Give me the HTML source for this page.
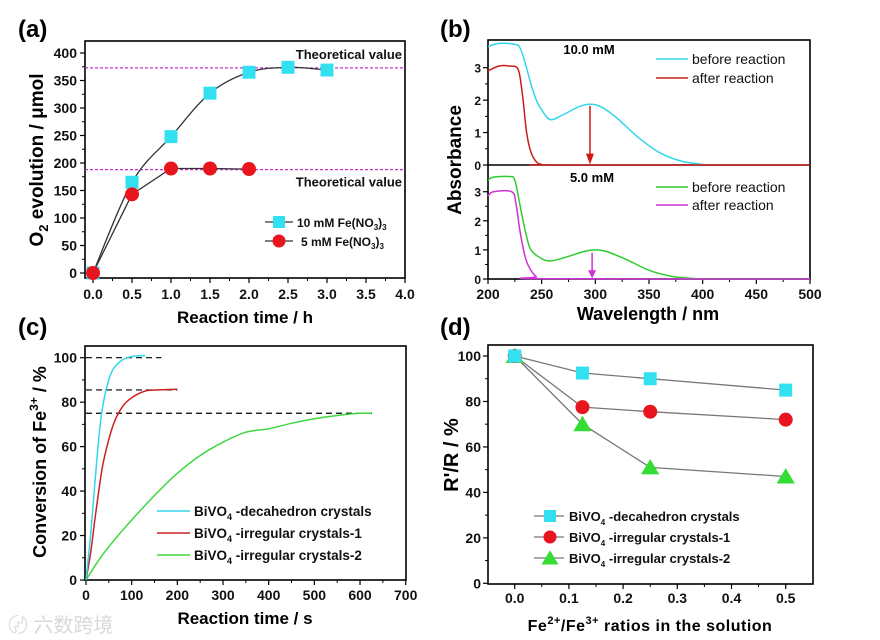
<!DOCTYPE html>
<html><head><meta charset="utf-8">
<style>
html,body{margin:0;padding:0;background:#fff;}
svg{display:block;font-family:"Liberation Sans","Noto Sans CJK SC",sans-serif;}
</style></head>
<body>
<svg id="fig" width="880" height="640" viewBox="0 0 880 640" xmlns="http://www.w3.org/2000/svg"></svg>
<script>
// ---------- Panel (a) data ----------
const aTimes = [0, 0.5, 1.0, 1.5, 2.0, 2.5, 3.0];
const aTen = [0, 165, 248, 327, 365, 374, 369];
const aFiveTimes = [0, 0.5, 1.0, 1.5, 2.0];
const aFive = [0, 143, 190, 190, 189];
const aTheory = [373, 188];
const aXTicks = [0, 0.5, 1, 1.5, 2, 2.5, 3, 3.5, 4];
const aYTicks = [0, 50, 100, 150, 200, 250, 300, 350, 400];
// ---------- Panel (b) data ----------
const bWl10Before = [200,210,225,230,235,240,245,250,258,270,285,295,305,320,340,360,380,400];
const bAbs10Before = [3.65,3.75,3.72,3.6,3.1,2.5,2.0,1.7,1.4,1.55,1.8,1.87,1.8,1.45,0.85,0.38,0.12,0.02];
const bWl10After = [200,210,220,228,232,236,240,245,250,260,500];
const bAbs10After = [2.9,3.05,3.05,2.95,2.2,1.0,0.4,0.1,0.02,0,0];
const bWl5Before = [200,205,220,225,230,235,240,250,258,270,290,300,310,330,350,370,390,410,500];
const bAbs5Before = [3.4,3.5,3.52,3.4,2.5,1.6,1.0,0.7,0.62,0.72,0.95,1.0,0.95,0.65,0.3,0.1,0.02,0,0];
const bWl5After = [200,205,222,226,230,235,240,245,250,500];
const bAbs5After = [2.85,3.0,3.0,2.6,1.6,0.7,0.3,0.08,0.01,0];
const bXTicks = [200,250,300,350,400,450,500];
const bYTicks = [0,1,2,3];
// ---------- Panel (c) data ----------
const cTimeDec = [0,10,20,30,40,50,60,80,100,130];
const cConvDec = [0,20,45,68,82,90,95,99,100.5,101];
const cTimeIr1 = [0,10,20,30,40,60,80,100,130,160,200];
const cConvIr1 = [0,12,28,43,55,70,78,82,85,85.5,85.8];
const cTimeIr2 = [0,25,50,100,150,200,250,300,350,400,450,500,550,600,625];
const cConvIr2 = [0,8,15,27,38,48,56,62,66.5,68,70.5,72.5,74,75,75];
const cLimits = [100, 85.5, 75];
const cLimitEnds = [165, 200, 630];
const cXTicks = [0,100,200,300,400,500,600,700];
const cYTicks = [0,20,40,60,80,100];
// ---------- Panel (d) data ----------
const dRatios = [0, 0.125, 0.25, 0.5];
const dDec = [100, 92.5, 90, 85];
const dIr1 = [100, 77.5, 75.5, 72];
const dIr2 = [100, 70, 51, 47];
const dXTicks = [0,0.1,0.2,0.3,0.4,0.5];
const dYTicks = [0,20,40,60,80,100];

const NS = "http://www.w3.org/2000/svg";
const svg = document.getElementById('fig');
function mk(tag, attrs, parent, txt){
  const e = document.createElementNS(NS, tag);
  for (const k in attrs) e.setAttribute(k, attrs[k]);
  if (txt !== undefined) e.textContent = txt;
  (parent || svg).appendChild(e);
  return e;
}
function lin(d0,d1,p0,p1){ return v => p0 + (v-d0)*(p1-p0)/(d1-d0); }
function path(xs, ys, sx, sy){ return xs.map((x,i)=>(i?'L':'M')+sx(x).toFixed(1)+','+sy(ys[i]).toFixed(1)).join(''); }
function smoothPath(xs, ys, sx, sy){
  const P = xs.map((x,i)=>[sx(x), sy(ys[i])]);
  let d = 'M'+P[0][0]+','+P[0][1];
  for (let i=0;i<P.length-1;i++){
    const p0=P[Math.max(0,i-1)],p1=P[i],p2=P[i+1],p3=P[Math.min(P.length-1,i+2)];
    const c1=[p1[0]+(p2[0]-p0[0])/6,p1[1]+(p2[1]-p0[1])/6];
    const c2=[p2[0]-(p3[0]-p1[0])/6,p2[1]-(p3[1]-p1[1])/6];
    d+='C'+c1[0].toFixed(1)+','+c1[1].toFixed(1)+' '+c2[0].toFixed(1)+','+c2[1].toFixed(1)+' '+p2[0].toFixed(1)+','+p2[1].toFixed(1);
  }
  return d;
}
function frame(x0,y0,x1,y1,name){
  const r = mk('rect',{x:x0,y:y0,width:x1-x0,height:y1-y0,fill:'none',stroke:'#000','stroke-width':1.6});
  
  
}
function xAxis(ticks, sx, yb, ytop, labY, fmt, minor, name){
  const g = mk('g',{});
  
  
  ticks.forEach((t,i)=>{
    mk('line',{x1:sx(t),x2:sx(t),y1:yb,y2:yb+5,stroke:'#000','stroke-width':1.2},g);
    if (minor && i<ticks.length-1){ const m=(t+ticks[i+1])/2;
      mk('line',{x1:sx(m),x2:sx(m),y1:yb,y2:yb+3,stroke:'#000','stroke-width':1},g);}
    const lab = mk('text',{x:sx(t),y:labY,'text-anchor':'middle','font-size':14,'font-weight':'bold',fill:'#111'},g,fmt(t));
    
    
  });
}
function yAxis(ticks, sy, xl, xr, labX, fmt, minor, name, fs){
  const g = mk('g',{});
  
  
  ticks.forEach((t,i)=>{
    mk('line',{x1:xl,x2:xl-5,y1:sy(t),y2:sy(t),stroke:'#000','stroke-width':1.2},g);
    if (minor && i<ticks.length-1){ const m=(t+ticks[i+1])/2;
      mk('line',{x1:xl,x2:xl-3,y1:sy(m),y2:sy(m),stroke:'#000','stroke-width':1},g);}
    const lab = mk('text',{x:labX,y:sy(t)+5,'text-anchor':'end','font-size':fs||14,'font-weight':'bold',fill:'#111'},g,fmt(t));
    
    
  });
}
function label(x,y,txt,name,opts){
  const t = mk('text',Object.assign({x:x,y:y,'font-size':24,'font-weight':'bold',fill:'#000'},opts||{}),svg,txt);
  
  
  return t;
}
function square(x,y,s,fill,g){ return mk('rect',{x:x-s/2,y:y-s/2,width:s,height:s,fill:fill},g); }
function circle(x,y,r,fill,g){ return mk('circle',{cx:x,cy:y,r:r,fill:fill},g); }
function tri(x,y,s,fill,g){ return mk('polygon',{points:`${x},${y-s*0.6} ${x-s*0.65},${y+s*0.5} ${x+s*0.65},${y+s*0.5}`,fill:fill},g); }

// ================= Panel (a) =================
(function(){
  const sx = lin(0,4,93,405), sy = lin(0,400,273,53);
  frame(85,41,405,278,'panel-a-plot-area');
  xAxis(aXTicks, sx, 278, 41, 299, t=>t.toFixed(1), true, 'panel-a-x-axis');
  yAxis(aYTicks, sy, 85, null, 77, t=>String(t), true, 'panel-a-y-axis');
  aTheory.forEach((v,i)=>{
    const l = mk('line',{x1:85,x2:405,y1:sy(v),y2:sy(v),stroke:'#c030d0','stroke-width':1.3,'stroke-dasharray':'3,2'});
    
    
  });
  label(402,sy(aTheory[0])-9,'Theoretical value','theoretical-label-10mm',{'font-size':13,'text-anchor':'end','fill':'#111'});
  label(402,sy(aTheory[1])+17,'Theoretical value','theoretical-label-5mm',{'font-size':13,'text-anchor':'end','fill':'#111'});
  const l1 = mk('path',{d:smoothPath(aTimes,aTen,sx,sy),fill:'none',stroke:'#333','stroke-width':1.3});
  
  
  const l2 = mk('path',{d:path(aFiveTimes,aFive,sx,sy),fill:'none',stroke:'#333','stroke-width':1.3});
  
  
  aTimes.forEach((t,i)=>{ const m = square(sx(t),sy(aTen[i]),13,'#33e0f0');
    
     });
  aFiveTimes.forEach((t,i)=>{ const m = circle(sx(t),sy(aFive[i]),7,'#e8141e');
    
     });
  const lg = mk('g',{});
  
  
  mk('line',{x1:265,x2:293,y1:222,y2:222,stroke:'#333','stroke-width':1.2},lg);
  square(279,222,12,'#33e0f0',lg);
  mk('line',{x1:265,x2:293,y1:241,y2:241,stroke:'#333','stroke-width':1.2},lg);
  circle(279,241,6.5,'#e8141e',lg);
  const t1 = mk('text',{x:297,y:227,'font-size':12,'font-weight':'bold',fill:'#111'},lg);
  t1.innerHTML = '10 mM Fe(NO<tspan font-size="8" dy="3">3</tspan><tspan dy="-3">)</tspan><tspan font-size="8" dy="3">3</tspan>';
  const t2 = mk('text',{x:301,y:246,'font-size':12,'font-weight':'bold',fill:'#111'},lg);
  t2.innerHTML = '5 mM Fe(NO<tspan font-size="8" dy="3">3</tspan><tspan dy="-3">)</tspan><tspan font-size="8" dy="3">3</tspan>';
  label(18,37,'(a)','panel-a-label');
  const yt = label(0,0,'','panel-a-y-title',{'font-size':19,transform:'translate(43,160) rotate(-90)','text-anchor':'middle'});
  yt.innerHTML = 'O<tspan font-size="13" dy="5">2</tspan><tspan dy="-5"> evolution / μmol</tspan>';
  label(245,323,'Reaction time / h','panel-a-x-title',{'font-size':17,'text-anchor':'middle'});
})();

// ================= Panel (b) =================
(function(){
  const sx = lin(200,500,488,810);
  const syT = lin(0,3,165,67.7), syB = lin(0,3,279,191.7);
  frame(488,40,810,279,'panel-b-plot-area');
  const dv = mk('line',{x1:488,x2:810,y1:165,y2:165,stroke:'#000','stroke-width':1.4});
  
  
  xAxis(bXTicks, sx, 279, 40, 299, t=>String(t), true, 'panel-b-x-axis');
  yAxis(bYTicks, syT, 488, null, 481, t=>String(t), true, 'panel-b-top-y-axis', 12);
  yAxis(bYTicks, syB, 488, null, 481, t=>String(t), true, 'panel-b-bottom-y-axis', 12);
  const series = [
    [bWl10Before,bAbs10Before,syT,'#33d6ea','curve-10mm-before'],
    [bWl5Before,bAbs5Before,syB,'#2ecc2e','curve-5mm-before'],
    [bWl10After,bAbs10After,syT,'#c81e1e','curve-10mm-after'],
    [bWl5After,bAbs5After,syB,'#d030d8','curve-5mm-after'],
  ];
  series.forEach(s=>{
    const p = mk('path',{d:smoothPath(s[0],s[1],sx,s[2]),fill:'none',stroke:s[3],'stroke-width':1.5});
    
    
  });
  const a1 = mk('g',{});  
  mk('line',{x1:sx(295),x2:sx(295),y1:syT(1.82),y2:syT(0.2),stroke:'#d01818','stroke-width':1.5},a1);
  mk('polygon',{points:`${sx(295)-4},${syT(0.35)} ${sx(295)+4},${syT(0.35)} ${sx(295)},${syT(0.02)}`,fill:'#d01818'},a1);
  const a2 = mk('g',{});  
  mk('line',{x1:sx(297),x2:sx(297),y1:syB(0.9),y2:syB(0.15),stroke:'#d030d8','stroke-width':1.5},a2);
  mk('polygon',{points:`${sx(297)-4},${syB(0.3)} ${sx(297)+4},${syB(0.3)} ${sx(297)},${syB(0.02)}`,fill:'#d030d8'},a2);
  label(589,54,'10.0 mM','label-10mm',{'font-size':13,'font-weight':'bold','text-anchor':'middle'});
  label(592,182,'5.0 mM','label-5mm',{'font-size':13,'font-weight':'bold','text-anchor':'middle'});
  const leg = [[59,'#33d6ea','before reaction','legend-10mm-before'],[78,'#c81e1e','after reaction','legend-10mm-after'],
               [187,'#2ecc2e','before reaction','legend-5mm-before'],[205,'#d030d8','after reaction','legend-5mm-after']];
  leg.forEach(L=>{
    const g = mk('g',{});  
    mk('line',{x1:656,x2:688,y1:L[0],y2:L[0],stroke:L[1],'stroke-width':1.6},g);
    mk('text',{x:692,y:L[0]+5,'font-size':14,'font-weight':'normal',fill:'#111'},g,L[2]);
  });
  label(440,37,'(b)','panel-b-label');
  label(0,0,'Absorbance','panel-b-y-title',{'font-size':19,transform:'translate(461,160) rotate(-90)','text-anchor':'middle'});
  label(648,320,'Wavelength / nm','panel-b-x-title',{'font-size':18,'text-anchor':'middle'});
})();

// ================= Panel (c) =================
(function(){
  const sx = lin(0,700,86,405.7), sy = lin(0,100,580,357.7);
  frame(85,346,406,580,'panel-c-plot-area');
  xAxis(cXTicks, sx, 580, 346, 600, t=>String(t), true, 'panel-c-x-axis');
  yAxis(cYTicks, sy, 85, null, 77, t=>String(t), true, 'panel-c-y-axis');
  cLimits.forEach((v,i)=>{
    const l = mk('line',{x1:86,x2:sx(cLimitEnds[i]),y1:sy(v),y2:sy(v),stroke:'#000','stroke-width':1.2,'stroke-dasharray':'6,4'});
    
    
  });
  const series = [[cTimeIr2,cConvIr2,'#3ed83e','curve-irregular-2'],[cTimeIr1,cConvIr1,'#cc2222','curve-irregular-1'],[cTimeDec,cConvDec,'#33d6ea','curve-decahedron']];
  series.forEach(s=>{
    const p = mk('path',{d:smoothPath(s[0],s[1],sx,sy),fill:'none',stroke:s[2],'stroke-width':1.5});
    
    
  });
  const leg = [[511,'#33d6ea','-decahedron crystals','legend-decahedron'],[533,'#cc2222','-irregular crystals-1','legend-irregular-1'],[555,'#3ed83e','-irregular crystals-2','legend-irregular-2']];
  leg.forEach(L=>{
    const g = mk('g',{});  
    mk('line',{x1:157,x2:190,y1:L[0],y2:L[0],stroke:L[1],'stroke-width':1.6},g);
    const t = mk('text',{x:194,y:L[0]+5,'font-size':13.5,'font-weight':'bold',fill:'#111'},g);
    t.innerHTML = 'BiVO<tspan font-size="9" dy="4">4</tspan><tspan dy="-4"> '+L[2]+'</tspan>';
  });
  label(18,335,'(c)','panel-c-label');
  const yt = label(0,0,'','panel-c-y-title',{'font-size':18,transform:'translate(46,462) rotate(-90)','text-anchor':'middle'});
  yt.innerHTML = 'Conversion of Fe<tspan font-size="12" dy="-8">3+</tspan><tspan dy="8"> / %</tspan>';
  label(245,624,'Reaction time / s','panel-c-x-title',{'font-size':17,'text-anchor':'middle'});
  label(8,632,'〄 六数跨境','watermark',{'font-size':20,'font-weight':'normal',fill:'#d8d8d8'});
})();

// ================= Panel (d) =================
(function(){
  const sx = lin(0,0.5,514.7,785.7), sy = lin(0,100,583.3,356);
  frame(488,345,813,584,'panel-d-plot-area');
  xAxis(dXTicks, sx, 584, 345, 603, t=>t.toFixed(1), true, 'panel-d-x-axis');
  yAxis(dYTicks, sy, 488, null, 481, t=>String(t), true, 'panel-d-y-axis');
  const series = [[dIr2,'#33dd33','tri','irregular-2'],[dIr1,'#e8141e','circ','irregular-1'],[dDec,'#33e0f0','sq','decahedron']];
  series.forEach(s=>{
    const p = mk('path',{d:path(dRatios,s[0],sx,sy),fill:'none',stroke:'#777','stroke-width':1.3});
    
    
  });
  series.forEach(s=>{
    dRatios.forEach((r,i)=>{
      let m;
      if (s[2]==='sq') m = square(sx(r),sy(s[0][i]),13,s[1]);
      else if (s[2]==='circ') m = circle(sx(r),sy(s[0][i]),7,s[1]);
      else m = tri(sx(r),sy(s[0][i]),14,s[1]);
      
      
    });
  });
  const leg = [[516,'#33e0f0','sq','-decahedron crystals','legend-decahedron-d'],[537,'#e8141e','circ','-irregular crystals-1','legend-irregular-1-d'],[558,'#33dd33','tri','-irregular crystals-2','legend-irregular-2-d']];
  leg.forEach(L=>{
    const g = mk('g',{});  
    mk('line',{x1:534,x2:564,y1:L[0],y2:L[0],stroke:'#777','stroke-width':1.2},g);
    if (L[2]==='sq') square(550,L[0],12,L[1],g); else if (L[2]==='circ') circle(550,L[0],6.5,L[1],g); else tri(550,L[0],13,L[1],g);
    const t = mk('text',{x:569,y:L[0]+5,'font-size':13,'font-weight':'bold',fill:'#111'},g);
    t.innerHTML = 'BiVO<tspan font-size="8" dy="4">4</tspan><tspan dy="-4"> '+L[3]+'</tspan>';
  });
  label(440,335,'(d)','panel-d-label');
  label(0,0,"R'/R / %",'panel-d-y-title',{'font-size':20,'font-weight':'bold',transform:'translate(458,455) rotate(-90)','text-anchor':'middle'});
  const xt = label(650,631,'','panel-d-x-title',{'font-size':16,'font-weight':'bold','text-anchor':'middle','letter-spacing':'0.5'});
  xt.innerHTML = 'Fe<tspan font-size="11" dy="-7">2+</tspan><tspan dy="7">/Fe</tspan><tspan font-size="11" dy="-7">3+</tspan><tspan dy="7"> ratios in the solution</tspan>';
})();
</script>
</body></html>
